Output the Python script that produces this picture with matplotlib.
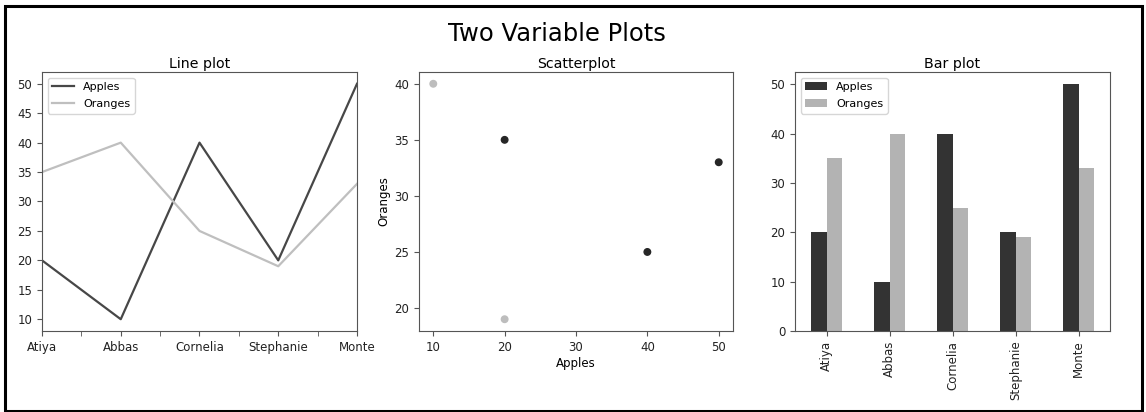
import matplotlib
matplotlib.use("Agg")
import matplotlib.pyplot as plt
from matplotlib.patches import Rectangle
import numpy as np

names = ["Atiya", "Abbas", "Cornelia", "Stephanie", "Monte"]
apples = [20, 10, 40, 20, 50]
oranges = [35, 40, 25, 19, 33]
scatter_shades = ["#bdbdbd" if o >= 40 or o < 20 else "#262626" for o in oranges]

plt.rcParams["font.family"] = "DejaVu Sans"
plt.rcParams["axes.edgecolor"] = "#555555"
plt.rcParams["xtick.color"] = "#555555"
plt.rcParams["ytick.color"] = "#555555"
plt.rcParams["xtick.labelcolor"] = "#222222"
plt.rcParams["ytick.labelcolor"] = "#222222"

fig = plt.figure(figsize=(11.46, 4.12), dpi=100)
W, H = 1146, 412

def ax_rect(l, r, t, b):
    return [l / W, 1 - b / H, (r - l) / W, (b - t) / H]

fs = 8.5
lfs = 8.0
tfs = 10.2
c_dark_line = "#474747"
c_light_line = "#bfbfbf"

# Line plot
ax1 = fig.add_axes(ax_rect(42, 357, 72, 331))
x = np.arange(len(names))
ax1.plot(x, apples, color=c_dark_line, lw=1.6, label="Apples")
ax1.plot(x, oranges, color=c_light_line, lw=1.6, label="Oranges")
ax1.set_xlim(0, len(names) - 1)
ax1.set_xticks(x)
ax1.set_xticklabels(names, fontsize=fs)
ax1.set_xticks(x[:-1] + 0.5, minor=True)
ax1.tick_params(axis="x", which="minor", length=3.5)
ax1.set_yticks([10, 15, 20, 25, 30, 35, 40, 45, 50])
ax1.tick_params(labelsize=fs)
ax1.set_title("Line plot", fontsize=tfs, pad=3)
ax1.legend(loc="upper left", fontsize=lfs, handlelength=2.0, labelspacing=0.65)

# Scatter
ax2 = fig.add_axes(ax_rect(419, 733, 72, 331))
ax2.scatter(apples, oranges, c=scatter_shades, s=22, zorder=3)
ax2.set_xticks([10, 20, 30, 40, 50])
ax2.set_yticks([20, 25, 30, 35, 40])
ax2.tick_params(labelsize=fs)
ax2.set_xlabel("Apples", fontsize=fs, labelpad=2)
ax2.set_ylabel("Oranges", fontsize=fs, labelpad=3)
ax2.set_title("Scatterplot", fontsize=tfs, pad=3)

# Bar plot
ax3 = fig.add_axes(ax_rect(795, 1110, 72, 331))
bw = 0.25
ax3.bar(x - bw / 2, apples, width=bw, color="#333333", label="Apples")
ax3.bar(x + bw / 2, oranges, width=bw, color="#b3b3b3", label="Oranges")
ax3.set_xlim(-0.5, len(names) - 0.5)
ax3.set_ylim(0, max(apples + oranges) * 1.05)
ax3.set_xticks(x)
ax3.set_xticklabels(names, rotation=90, fontsize=fs)
ax3.set_yticks([0, 10, 20, 30, 40, 50])
ax3.tick_params(labelsize=fs)
ax3.set_title("Bar plot", fontsize=tfs, pad=3)
ax3.legend(loc="upper left", fontsize=lfs, handlelength=2.0, labelspacing=0.65)

fig.text(557 / W, 1 - 34 / H, "Two Variable Plots", ha="center", va="center", fontsize=17.5)

fig.patches.append(Rectangle((5 / W, 1.5 / H), (W - 9.5) / W, (H - 7) / H,
                             transform=fig.transFigure, fill=False,
                             edgecolor="black", lw=2.2))

fig.savefig("out.png", dpi=100)
